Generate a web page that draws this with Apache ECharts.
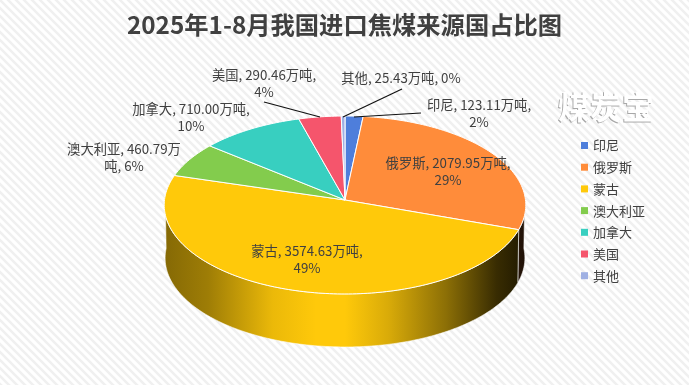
<!DOCTYPE html>
<html><head><meta charset="utf-8">
<style>html,body{margin:0;padding:0;background:#fff}#c{width:689px;height:385px}</style>
<script src="https://cdn.jsdelivr.net/npm/echarts@6/dist/echarts.min.js"></script>
</head><body><div id="c"></div>
<script>
const titleText = '2025年1-8月我国进口焦煤来源国占比图';
const categories = ['印尼','俄罗斯','蒙古','澳大利亚','加拿大','美国','其他'];
const values = [123.11,2079.95,3574.63,460.79,710.00,290.46,25.43];
const colors = ['#4e7edb','#ff8c3a','#ffc90a','#83cc4d','#38cfc0','#f5556c','#9fb0e3'];
const labelTexts = [
  '印尼, 123.11万吨,\n2%','俄罗斯, 2079.95万吨,\n29%','蒙古, 3574.63万吨,\n49%',
  '澳大利亚, 460.79万\n吨, 6%','加拿大, 710.00万吨,\n10%','美国, 290.46万吨,\n4%','其他, 25.43万吨, 0%'
];
// layout (separate from the data)
const geo = {cx:345, cy:200, a:180.5, b:88.7, p:0.056, depth:53};
const labelAt = [[479,113],[448,171.5],[307,259.5],[124,157.5],[191,117.5],[264,83],[401,78]];
const leaders = {0:[[421,113],[354,117]],6:[[402,89],[343,117]],5:[[264,102],[320,117]]};
const shadeStops = [[0,.52],[.12,.62],[.3,.92],[.42,1],[.5,1],[.62,.85],[.78,.55],[.92,.22],[1,.12]];
const total = values.reduce((s,v)=>s+v,0);

function proj(t,r,dz){ // t: clockwise angle from the top of the disc
  const u=Math.sin(t)*r, v=-Math.cos(t)*r, w=1-geo.p*v, s=dz?0.995:1;
  return [geo.cx+geo.a*u/w*s, geo.cy+geo.b*v/w+(dz||0)];
}
function shade(hex,f){
  const n=parseInt(hex.slice(1),16);
  return 'rgb('+[(n>>16)&255,(n>>8)&255,n&255].map(c=>Math.round(c*f)).join(',')+')';
}
function render(idx){
  return function(params,api){
    const before=values.slice(0,idx).reduce((s,v)=>s+v,0);
    const t0=before/total*2*Math.PI, t1=(before+api.value(0))/total*2*Math.PI;
    const children=[];
    const N=Math.max(4,Math.ceil((t1-t0)/0.02));
    // side wall: only the part facing the viewer
    const lo=Math.max(t0,Math.PI/2-0.05), hi=Math.min(t1,Math.PI*1.5+0.05);
    if(hi>lo){
      const top=[],bot=[];
      const M=Math.ceil((hi-lo)/0.02);
      for(let i=0;i<=M;i++){const t=lo+(hi-lo)*i/M;top.push(proj(t,1,0));bot.unshift(proj(t,1,geo.depth));}
      children.push({type:'polygon',shape:{points:top.concat(bot)},z2:1,
        style:{stroke:'rgba(255,255,255,.7)',lineWidth:0.8,
          fill:{type:'linear',global:true,x:geo.cx-geo.a,y:0,x2:geo.cx+geo.a,y2:0,
            colorStops:shadeStops.map(s=>({offset:s[0],color:shade(colors[idx],s[1])}))}}});
    }
    // top face
    const pts=[[geo.cx,geo.cy]];
    for(let i=0;i<=N;i++) pts.push(proj(t0+(t1-t0)*i/N,1,0));
    children.push({type:'polygon',shape:{points:pts},z2:2,
      style:{fill:colors[idx],stroke:'#fff',lineWidth:1,lineJoin:'round'}});
    if(leaders[idx]){
      children.push({type:'polyline',shape:{points:leaders[idx]},z2:3,
        style:{fill:null,stroke:'#111',lineWidth:1.2}});
    }
    children.push({type:'text',z2:4,style:{text:labelTexts[idx],x:labelAt[idx][0],y:labelAt[idx][1],
      align:'center',verticalAlign:'middle',fill:'#404040',lineHeight:17,
      font:'13.3px "Noto Sans CJK SC","Noto Sans",sans-serif'}});
    return {type:'group',children};
  };
}
// diagonal stripe background
const tile=document.createElement('canvas');tile.width=8;tile.height=8;
(function(){const g=tile.getContext('2d');g.fillStyle='#fff';g.fillRect(0,0,8,8);
  g.strokeStyle='#f0f0f0';g.lineWidth=2.6;g.beginPath();
  [[-2,6,2,10],[-2,-2,10,10],[6,-2,10,2]].forEach(l=>{g.moveTo(l[0],l[1]);g.lineTo(l[2],l[3]);});g.stroke();})();

const wmFont='bold 32px "Noto Sans CJK SC",sans-serif';
const chart=echarts.init(document.getElementById('c'),null,{renderer:'canvas'});
chart.setOption({
  animation:false,
  backgroundColor:{image:tile,repeat:'repeat'},
  title:{text:titleText,left:'center',top:8,textStyle:{fontSize:24.3,fontWeight:'bold',color:'#404040',
    fontFamily:'"Noto Sans CJK SC","Noto Sans",sans-serif'}},
  legend:{orient:'vertical',left:576,top:134,itemWidth:7,itemHeight:7,itemGap:8.7,icon:'rect',
    data:categories,selectedMode:false,textStyle:{fontSize:13,color:'#404040',
    fontFamily:'"Noto Sans CJK SC","Noto Sans",sans-serif'}},
  graphic:[
    {type:'text',left:557,top:92,z:0,style:{text:'煤炭宝',fill:'#a8a8a8',font:wmFont}},
    {type:'text',left:558,top:91,z:1,style:{text:'煤炭宝',fill:'#fff',font:wmFont}}
  ],
  series:categories.map((name,i)=>({type:'custom',name,coordinateSystem:'none',
    itemStyle:{color:colors[i]},data:[[values[i]]],renderItem:render(i),silent:true,
    encode:{value:0}}))
});
</script></body></html>
